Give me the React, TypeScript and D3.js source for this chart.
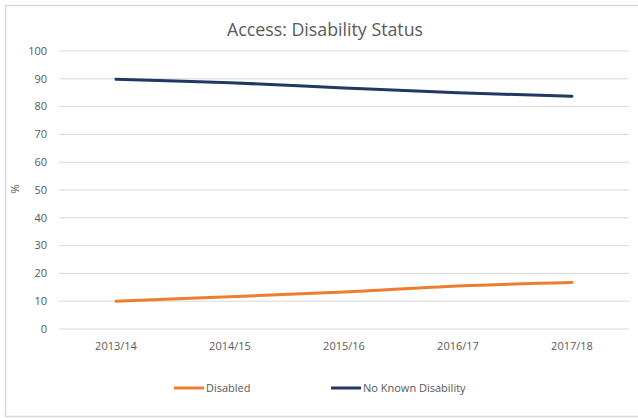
import React from 'react';
import * as d3 from 'd3';

const years = ['2013/14', '2014/15', '2015/16', '2016/17', '2017/18'];
const disabled = [10, 11.6, 13.3, 15.5, 16.7];
const noKnownDisability = [89.8, 88.6, 86.7, 85, 83.7];
const yTicks = [0, 10, 20, 30, 40, 50, 60, 70, 80, 90, 100];

const series = [
  { name: 'Disabled', values: disabled, color: '#ED7D31' },
  { name: 'No Known Disability', values: noKnownDisability, color: '#1F3864' },
];

const W = 638;
const H = 418;
const margin = { left: 59, right: 9, top: 51, bottom: 89 };
const font = "'Open Sans', sans-serif";
const textColor = '#595959';

const App = () => {
  const x = d3.scaleBand<string>()
    .domain(years)
    .range([margin.left, W - margin.right]);
  const y = d3.scaleLinear()
    .domain([0, 100])
    .range([H - margin.bottom, margin.top]);

  const line = d3.line<number>()
    .x((d, i) => (x(years[i]) as number) + x.bandwidth() / 2)
    .y((d) => y(d))
    .curve(d3.curveCatmullRom.alpha(0.5));

  const legendX = [174, 331];

  return (
    <svg width={W} height={H} style={{ position: 'absolute', left: 0, top: 0, background: '#fff' }}>
      <rect x={5.5} y={5.5} width={W} height={411} fill="#fff" stroke="#d9d9d9" strokeWidth={1.5} />
      <text x={325} y={36} textAnchor="middle" fontFamily={font} fontSize={17.8} fill={textColor}>
        Access: Disability Status
      </text>

      {yTicks.map((t) => (
        <g key={t}>
          <line x1={margin.left} x2={W - margin.right} y1={y(t)} y2={y(t)} stroke="#d9d9d9" strokeWidth={1} />
          <text x={47} y={y(t)} dy="0.35em" textAnchor="end" fontFamily={font} fontSize={11} fill={textColor}>
            {t}
          </text>
        </g>
      ))}

      <text
        transform={`translate(19,189) rotate(-90)`}
        textAnchor="middle"
        fontFamily={font}
        fontSize={11.5}
        fill={textColor}
      >
        %
      </text>

      {years.map((yr) => (
        <text
          key={yr}
          x={(x(yr) as number) + x.bandwidth() / 2}
          y={350}
          textAnchor="middle"
          fontFamily={font}
          fontSize={11}
          fill={textColor}
        >
          {yr}
        </text>
      ))}

      {series.map((s) => (
        <path key={s.name} d={line(s.values) || ''} fill="none" stroke={s.color} strokeWidth={3} strokeLinecap="round" />
      ))}

      {series.map((s, i) => (
        <g key={s.name}>
          <line x1={legendX[i]} x2={legendX[i] + 30} y1={388} y2={388} stroke={s.color} strokeWidth={3} />
          <text x={legendX[i] + 32} y={388} dy="0.35em" fontFamily={font} fontSize={11} fill={textColor}>
            {s.name}
          </text>
        </g>
      ))}
    </svg>
  );
};

export default App;
